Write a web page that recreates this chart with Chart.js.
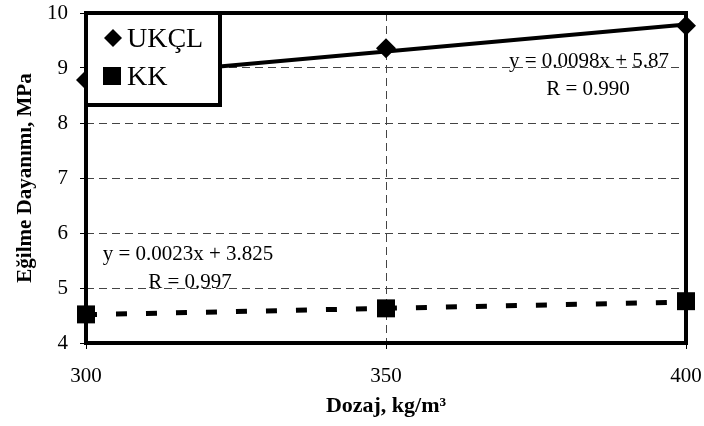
<!DOCTYPE html>
<html>
<head>
<meta charset="utf-8">
<script src="https://cdn.jsdelivr.net/npm/chart.js@4/dist/chart.umd.min.js"></script>
<style>
  html, body { margin: 0; padding: 0; background: #fff; }
  #wrap { width: 704px; height: 426px; }
</style>
</head>
<body>
<div id="wrap"><canvas id="chart" width="704" height="426"></canvas></div>
<script>
/* Eğilme dayanımı vs dozaj — UKÇL / KK */

const dozaj = [300, 350, 400];
const ukclValues = [8.78, 9.36, 9.77];
const kkValues = [4.52, 4.63, 4.76];

// trend line ends
const trendX = [300, 400];
const ukclTrend = [8.81, 9.79];
const kkTrend = [4.515, 4.745];

const yTicks = [4, 5, 6, 7, 8, 9, 10];
const xTicks = [300, 350, 400];

const ukclEq = ["y = 0.0098x + 5.87", "R = 0.990"];
const kkEq = ["y = 0.0023x + 3.825", "R = 0.997"];
const seriesNames = ["UKÇL", "KK"];

const SERIF = "'Liberation Serif', 'Times New Roman', serif";
Chart.defaults.font.family = SERIF;
Chart.defaults.color = "#000";

function pts(xs, ys) {
  return xs.map((x, i) => ({ x, y: ys[i] }));
}

const framePlugin = {
  id: "frame",
  beforeDatasetsDraw(chart) {
    const { ctx, chartArea: a } = chart;
    ctx.save();
    ctx.strokeStyle = "#000";
    ctx.lineWidth = 4;
    ctx.strokeRect(a.left, a.top, a.right - a.left, a.bottom - a.top);
    ctx.restore();
  },
  afterDatasetsDraw(chart) {
    const { ctx, chartArea: a } = chart;
    ctx.save();
    // equations
    ctx.fillStyle = "#000";
    ctx.font = "21px " + SERIF;
    ctx.textAlign = "center";
    ctx.textBaseline = "alphabetic";
    ctx.fillText(ukclEq[0], 589, 67);
    ctx.fillText(ukclEq[1], 588, 95);
    ctx.fillText(kkEq[0], 188, 260);
    ctx.fillText(kkEq[1], 190, 288);

    // legend box
    const bx = a.left, by = a.top, bw = 134, bh = 92;
    ctx.fillStyle = "#fff";
    ctx.fillRect(bx, by, bw, bh);
    ctx.strokeStyle = "#000";
    ctx.lineWidth = 4;
    ctx.strokeRect(bx, by, bw, bh);

    ctx.fillStyle = "#000";
    // diamond
    ctx.beginPath();
    ctx.moveTo(113, 29);
    ctx.lineTo(122, 38);
    ctx.lineTo(113, 47);
    ctx.lineTo(104, 38);
    ctx.closePath();
    ctx.fill();
    // square
    ctx.fillRect(103, 67, 18, 18);

    ctx.font = "28px " + SERIF;
    ctx.textAlign = "left";
    ctx.fillText(seriesNames[0], 127, 47);
    ctx.fillText(seriesNames[1], 127, 85);
    ctx.restore();
  }
};

const gridOpts = {
  color: "#444", lineWidth: 1,
  tickLength: 6, tickColor: "#000", tickBorderDash: []
};

new Chart(document.getElementById("chart"), {
  type: "scatter",
  data: {
    datasets: [
      {
        label: seriesNames[0] + " trend",
        data: pts(trendX, ukclTrend),
        showLine: true, borderColor: "#000", borderWidth: 4,
        pointRadius: 0, clip: false
      },
      {
        label: seriesNames[1] + " trend",
        data: pts(trendX, kkTrend),
        showLine: true, borderColor: "#000", borderWidth: 5, borderDash: [11, 19],
        pointRadius: 0, clip: false
      },
      {
        label: seriesNames[0],
        data: pts(dozaj, ukclValues),
        pointStyle: "rectRot", pointRadius: 10,
        backgroundColor: "#000", borderColor: "#000", borderWidth: 0, clip: false
      },
      {
        label: seriesNames[1],
        data: pts(dozaj, kkValues),
        pointStyle: "rect", pointRadius: 12.7,
        backgroundColor: "#000", borderColor: "#000", borderWidth: 0, clip: false
      }
    ]
  },
  options: {
    responsive: false,
    animation: false,
    layout: { autoPadding: false, padding: { left: 0, top: 13, right: 18, bottom: 0 } },
    plugins: { legend: { display: false }, tooltip: { enabled: false } },
    scales: {
      x: {
        type: "linear", min: 300, max: 400,
        afterFit: s => { s.height = 83; s.paddingLeft = 0; s.paddingRight = 0; },
        afterBuildTicks: s => { s.ticks = xTicks.map(v => ({ value: v })); },
        ticks: { font: { size: 21 }, padding: 15, color: "#000" },
        grid: gridOpts,
        border: { display: false, dash: [8, 5] },
        title: {
          display: true, text: "Dozaj, kg/m³",
          font: { size: 22, weight: "bold" }, color: "#000",
          padding: { top: 0, bottom: 6 }
        }
      },
      y: {
        min: 4, max: 10,
        afterFit: s => { s.width = 86; s.paddingTop = 0; s.paddingBottom = 0; },
        afterBuildTicks: s => { s.ticks = yTicks.map(v => ({ value: v })); },
        ticks: { font: { size: 21 }, padding: 12, color: "#000" },
        grid: gridOpts,
        border: { display: false, dash: [8, 5] },
        title: {
          display: true, text: "Eğilme Dayanımı, MPa",
          font: { size: 21, weight: "bold" }, color: "#000",
          padding: { top: 13, bottom: 0 }
        }
      }
    }
  },
  plugins: [framePlugin]
});
</script>
</body>
</html>
